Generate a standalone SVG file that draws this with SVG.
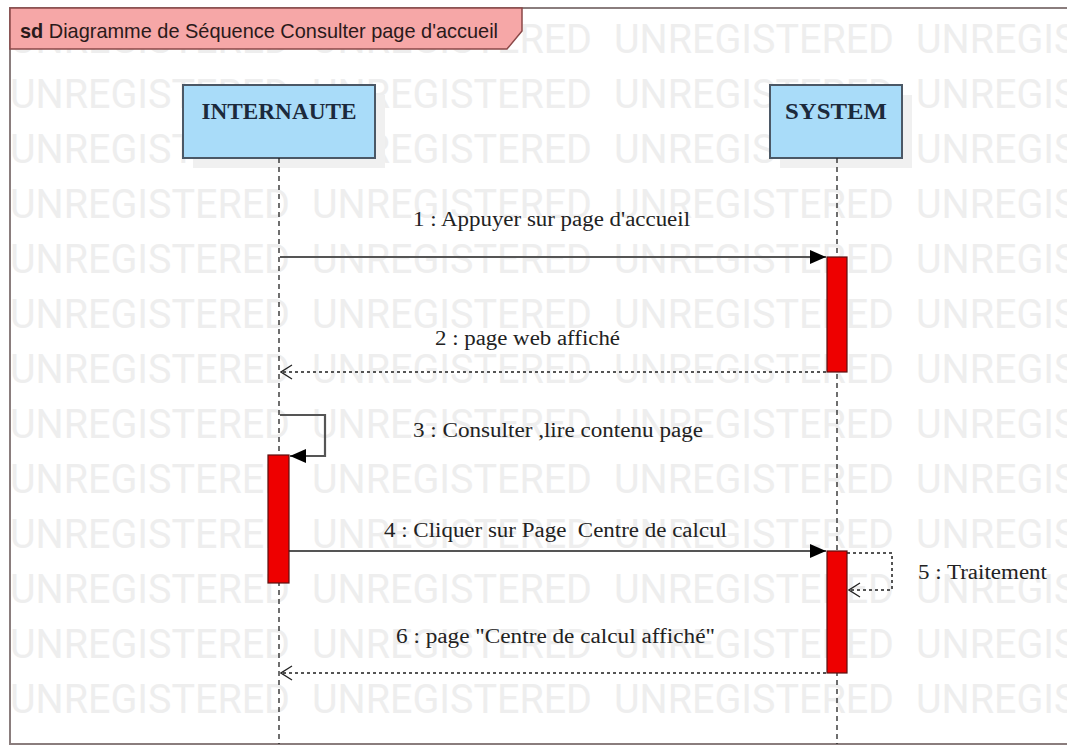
<svg xmlns="http://www.w3.org/2000/svg" width="1067" height="748" viewBox="0 0 1067 748">
<style>
.wm{font-family:Roboto,"Liberation Sans",sans-serif;font-size:41px;fill:#eeeeee}
.lbl{font-family:"Liberation Serif",serif;font-size:20px;fill:#222;white-space:pre}
.head{fill:#a9dcf9;stroke:#4b5866;stroke-width:2}
.shadow{fill:#f0f0f0}
.htxt{font-family:"Liberation Serif",serif;font-weight:bold;font-size:23px;fill:#1c2a3c;text-anchor:middle}
.life{stroke:#222;stroke-width:1.3;stroke-dasharray:5,4;fill:none}
.act{fill:#ee0000;stroke:#5a1010;stroke-width:1.2}
.call{stroke:#555;stroke-width:2.2;fill:none}
.ret{stroke:#555;stroke-width:2;stroke-dasharray:3,3;fill:none}
</style>
<defs>
<marker id="filled" markerWidth="16" markerHeight="14" refX="16" refY="7" orient="auto" markerUnits="userSpaceOnUse">
<path d="M0,0 L16,7 L0,14 Z" fill="#000"/>
</marker>
<marker id="open" markerWidth="14" markerHeight="16" refX="13" refY="8" orient="auto" markerUnits="userSpaceOnUse">
<path d="M2,1 L13,8 L2,15" fill="none" stroke="#222" stroke-width="1.3"/>
</marker>
</defs>
<rect width="1067" height="748" fill="#fff"/>
<g id="watermark">
<text class="wm" y="53"><tspan x="10" textLength="280" lengthAdjust="spacingAndGlyphs">UNREGISTERED</tspan><tspan x="312" textLength="280" lengthAdjust="spacingAndGlyphs">UNREGISTERED</tspan><tspan x="614" textLength="280" lengthAdjust="spacingAndGlyphs">UNREGISTERED</tspan><tspan x="916" textLength="280" lengthAdjust="spacingAndGlyphs">UNREGISTERED</tspan></text>
<text class="wm" y="108"><tspan x="10" textLength="280" lengthAdjust="spacingAndGlyphs">UNREGISTERED</tspan><tspan x="312" textLength="280" lengthAdjust="spacingAndGlyphs">UNREGISTERED</tspan><tspan x="614" textLength="280" lengthAdjust="spacingAndGlyphs">UNREGISTERED</tspan><tspan x="916" textLength="280" lengthAdjust="spacingAndGlyphs">UNREGISTERED</tspan></text>
<text class="wm" y="163"><tspan x="10" textLength="280" lengthAdjust="spacingAndGlyphs">UNREGISTERED</tspan><tspan x="312" textLength="280" lengthAdjust="spacingAndGlyphs">UNREGISTERED</tspan><tspan x="614" textLength="280" lengthAdjust="spacingAndGlyphs">UNREGISTERED</tspan><tspan x="916" textLength="280" lengthAdjust="spacingAndGlyphs">UNREGISTERED</tspan></text>
<text class="wm" y="218"><tspan x="10" textLength="280" lengthAdjust="spacingAndGlyphs">UNREGISTERED</tspan><tspan x="312" textLength="280" lengthAdjust="spacingAndGlyphs">UNREGISTERED</tspan><tspan x="614" textLength="280" lengthAdjust="spacingAndGlyphs">UNREGISTERED</tspan><tspan x="916" textLength="280" lengthAdjust="spacingAndGlyphs">UNREGISTERED</tspan></text>
<text class="wm" y="273"><tspan x="10" textLength="280" lengthAdjust="spacingAndGlyphs">UNREGISTERED</tspan><tspan x="312" textLength="280" lengthAdjust="spacingAndGlyphs">UNREGISTERED</tspan><tspan x="614" textLength="280" lengthAdjust="spacingAndGlyphs">UNREGISTERED</tspan><tspan x="916" textLength="280" lengthAdjust="spacingAndGlyphs">UNREGISTERED</tspan></text>
<text class="wm" y="328"><tspan x="10" textLength="280" lengthAdjust="spacingAndGlyphs">UNREGISTERED</tspan><tspan x="312" textLength="280" lengthAdjust="spacingAndGlyphs">UNREGISTERED</tspan><tspan x="614" textLength="280" lengthAdjust="spacingAndGlyphs">UNREGISTERED</tspan><tspan x="916" textLength="280" lengthAdjust="spacingAndGlyphs">UNREGISTERED</tspan></text>
<text class="wm" y="383"><tspan x="10" textLength="280" lengthAdjust="spacingAndGlyphs">UNREGISTERED</tspan><tspan x="312" textLength="280" lengthAdjust="spacingAndGlyphs">UNREGISTERED</tspan><tspan x="614" textLength="280" lengthAdjust="spacingAndGlyphs">UNREGISTERED</tspan><tspan x="916" textLength="280" lengthAdjust="spacingAndGlyphs">UNREGISTERED</tspan></text>
<text class="wm" y="438"><tspan x="10" textLength="280" lengthAdjust="spacingAndGlyphs">UNREGISTERED</tspan><tspan x="312" textLength="280" lengthAdjust="spacingAndGlyphs">UNREGISTERED</tspan><tspan x="614" textLength="280" lengthAdjust="spacingAndGlyphs">UNREGISTERED</tspan><tspan x="916" textLength="280" lengthAdjust="spacingAndGlyphs">UNREGISTERED</tspan></text>
<text class="wm" y="493"><tspan x="10" textLength="280" lengthAdjust="spacingAndGlyphs">UNREGISTERED</tspan><tspan x="312" textLength="280" lengthAdjust="spacingAndGlyphs">UNREGISTERED</tspan><tspan x="614" textLength="280" lengthAdjust="spacingAndGlyphs">UNREGISTERED</tspan><tspan x="916" textLength="280" lengthAdjust="spacingAndGlyphs">UNREGISTERED</tspan></text>
<text class="wm" y="548"><tspan x="10" textLength="280" lengthAdjust="spacingAndGlyphs">UNREGISTERED</tspan><tspan x="312" textLength="280" lengthAdjust="spacingAndGlyphs">UNREGISTERED</tspan><tspan x="614" textLength="280" lengthAdjust="spacingAndGlyphs">UNREGISTERED</tspan><tspan x="916" textLength="280" lengthAdjust="spacingAndGlyphs">UNREGISTERED</tspan></text>
<text class="wm" y="603"><tspan x="10" textLength="280" lengthAdjust="spacingAndGlyphs">UNREGISTERED</tspan><tspan x="312" textLength="280" lengthAdjust="spacingAndGlyphs">UNREGISTERED</tspan><tspan x="614" textLength="280" lengthAdjust="spacingAndGlyphs">UNREGISTERED</tspan><tspan x="916" textLength="280" lengthAdjust="spacingAndGlyphs">UNREGISTERED</tspan></text>
<text class="wm" y="658"><tspan x="10" textLength="280" lengthAdjust="spacingAndGlyphs">UNREGISTERED</tspan><tspan x="312" textLength="280" lengthAdjust="spacingAndGlyphs">UNREGISTERED</tspan><tspan x="614" textLength="280" lengthAdjust="spacingAndGlyphs">UNREGISTERED</tspan><tspan x="916" textLength="280" lengthAdjust="spacingAndGlyphs">UNREGISTERED</tspan></text>
<text class="wm" y="713"><tspan x="10" textLength="280" lengthAdjust="spacingAndGlyphs">UNREGISTERED</tspan><tspan x="312" textLength="280" lengthAdjust="spacingAndGlyphs">UNREGISTERED</tspan><tspan x="614" textLength="280" lengthAdjust="spacingAndGlyphs">UNREGISTERED</tspan><tspan x="916" textLength="280" lengthAdjust="spacingAndGlyphs">UNREGISTERED</tspan></text>
</g>
<g id="frame">
<rect x="10" y="8" width="1070" height="736" fill="none" stroke="#8a7d7d" stroke-width="2"/>
<polygon points="10,8 522,8 522,31 507,49 10,49" fill="#f6a7a7" stroke="#8a4848" stroke-width="1.5"/>
<text x="20" y="38" font-family="'Liberation Sans',Arial,sans-serif" font-size="21" fill="#2a1a1a" textLength="478" lengthAdjust="spacingAndGlyphs"><tspan font-weight="bold">sd</tspan> Diagramme de Séquence Consulter page d'accueil</text>
</g>
<g id="internaute">
<rect class="shadow" x="193" y="95" width="192" height="73"/>
<rect class="head" x="183" y="85" width="192" height="73"/>
<text class="htxt" x="279" y="119" textLength="155" lengthAdjust="spacingAndGlyphs">INTERNAUTE</text>
<line class="life" x1="279" y1="158" x2="279" y2="744"/>
</g>
<g id="system">
<rect class="shadow" x="780" y="95" width="132" height="73"/>
<rect class="head" x="770" y="85" width="132" height="73"/>
<text class="htxt" x="836" y="119" textLength="102" lengthAdjust="spacingAndGlyphs">SYSTEM</text>
<line class="life" x1="837" y1="158" x2="837" y2="744"/>
</g>
<g id="connectors">
<line class="call" x1="280" y1="257" x2="826" y2="257" marker-end="url(#filled)"/>
<line class="ret" x1="826" y1="372" x2="281" y2="372" marker-end="url(#open)"/>
<path class="call" d="M280,415 H325 V456 H290" marker-end="url(#filled)"/>
<line class="call" x1="289" y1="551" x2="826" y2="551" marker-end="url(#filled)"/>
<path class="ret" d="M847,553 H892 V590 H849" marker-end="url(#open)"/>
<line class="ret" x1="826" y1="673" x2="281" y2="673" marker-end="url(#open)"/>
</g>
<g id="activations">
<rect class="act" x="827" y="257" width="20" height="115"/>
<rect class="act" x="268" y="455" width="21" height="128"/>
<rect class="act" x="827" y="551" width="20" height="122"/>
</g>
<g id="labels">
<text class="lbl" x="413" y="226" textLength="277" lengthAdjust="spacingAndGlyphs">1 : Appuyer sur page d'accueil</text>
<text class="lbl" x="435" y="345" textLength="185" lengthAdjust="spacingAndGlyphs">2 : page web affiché</text>
<text class="lbl" x="413" y="437" textLength="290" lengthAdjust="spacingAndGlyphs">3 : Consulter ,lire contenu page</text>
<text class="lbl" x="384" y="537" textLength="343" lengthAdjust="spacingAndGlyphs">4 : Cliquer sur Page  Centre de calcul</text>
<text class="lbl" x="918" y="579" textLength="129" lengthAdjust="spacingAndGlyphs">5 : Traitement</text>
<text class="lbl" x="396" y="643" textLength="319" lengthAdjust="spacingAndGlyphs">6 : page "Centre de calcul affiché"</text>
</g>
</svg>
